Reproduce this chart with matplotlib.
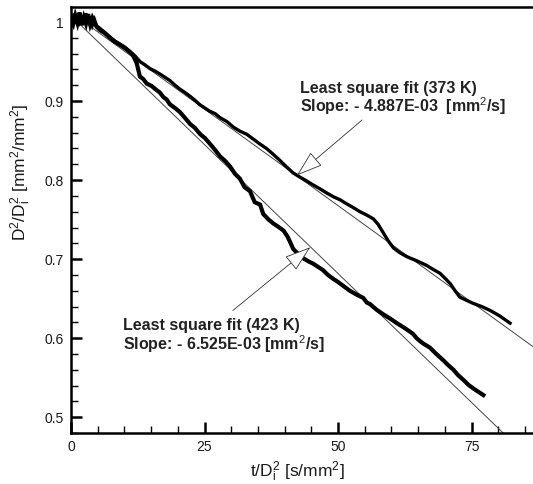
import matplotlib
matplotlib.use("Agg")
import matplotlib.pyplot as plt
from matplotlib.ticker import MultipleLocator, FuncFormatter

plt.rcParams['font.family'] = ['Liberation Sans', 'DejaVu Sans']
plt.rcParams['mathtext.fontset'] = 'custom'
plt.rcParams['mathtext.rm'] = 'Liberation Sans'
plt.rcParams['mathtext.default'] = 'rm'

# droplet at 373 K (upper trace)
t_373 = [0, 0.4, 0.8, 1.2, 1.6, 2.0, 2.4, 2.8, 3.2, 3.6, 4.0, 4.4, 4.8, 5.4, 6.3, 7.3,
         8.2, 9.2, 10.1, 11.0, 12.0, 12.9, 13.8, 14.8, 15.7, 16.7, 17.6, 18.5, 19.5,
         20.4, 21.3, 22.3, 23.2, 24.2, 25.1, 26.0, 27.0, 27.9, 29.2, 30.4, 31.6, 32.9,
         34.1, 35.3, 36.6, 37.8, 39.1, 40.3, 41.6, 42.8, 44.1, 45.3, 46.6, 47.8, 49.1,
         50.4, 51.6, 52.9, 54.1, 55.3, 56.6, 57.5, 58.5, 59.4, 60.4, 61.6, 62.9, 64.7,
         66.6, 67.8, 69.1, 70.0, 71.0, 71.9, 72.8, 74.0, 75.3, 76.9, 78.5, 80.3, 82.2]
d2_373 = [1.000, 1.006, 0.998, 1.009, 0.999, 1.004, 0.997, 1.011, 0.998, 1.007, 0.996,
          1.003, 0.995, 0.992, 0.987, 0.981, 0.976, 0.972, 0.968, 0.963, 0.957, 0.950,
          0.946, 0.941, 0.938, 0.934, 0.930, 0.926, 0.920, 0.915, 0.911, 0.906, 0.901,
          0.895, 0.891, 0.887, 0.884, 0.879, 0.874, 0.867, 0.862, 0.858, 0.852, 0.846,
          0.840, 0.833, 0.825, 0.817, 0.809, 0.804, 0.799, 0.794, 0.789, 0.784, 0.779,
          0.775, 0.770, 0.765, 0.760, 0.756, 0.751, 0.744, 0.733, 0.723, 0.714, 0.708,
          0.703, 0.698, 0.692, 0.687, 0.682, 0.676, 0.669, 0.660, 0.652, 0.648, 0.644,
          0.640, 0.635, 0.628, 0.619]

# droplet at 423 K (lower trace)
t_423 = [0, 0.4, 0.8, 1.2, 1.6, 2.0, 2.4, 2.8, 3.2, 3.6, 4.0, 4.4, 4.8, 5.4, 6.3, 7.3,
         8.2, 9.2, 10.1, 11.0, 11.6, 12.3, 12.9, 13.5, 14.2, 15.1, 16.0, 16.6, 17.3,
         17.9, 18.5, 19.5, 20.4, 21.3, 22.3, 23.2, 24.2, 25.1, 26.0, 27.0, 27.9, 28.9,
         29.8, 30.7, 31.6, 32.5, 33.5, 34.4, 35.4, 36.0, 37.0, 37.9, 38.8, 39.8, 40.5,
         41.0, 41.6, 42.3, 43.0, 43.5, 44.5, 45.4, 46.3, 47.2, 48.1, 49.1, 50.0, 51.0,
         52.2, 53.5, 54.7, 55.4, 56.0, 57.2, 58.5, 59.7, 61.0, 62.2, 63.5, 64.1, 64.7,
         65.4, 66.0, 67.2, 68.4, 69.7, 70.6, 71.6, 72.5, 73.5, 74.4, 75.4, 76.3, 77.2]
d2_423 = [1.002, 0.997, 1.008, 0.999, 1.012, 0.996, 1.006, 0.998, 1.010, 0.997, 1.005,
          0.999, 0.994, 0.990, 0.986, 0.980, 0.975, 0.971, 0.967, 0.962, 0.958, 0.948,
          0.931, 0.928, 0.922, 0.919, 0.914, 0.911, 0.905, 0.902, 0.896, 0.891, 0.886,
          0.879, 0.871, 0.866, 0.858, 0.853, 0.846, 0.838, 0.830, 0.824, 0.817, 0.808,
          0.802, 0.791, 0.786, 0.772, 0.769, 0.757, 0.750, 0.745, 0.741, 0.736, 0.729,
          0.722, 0.713, 0.708, 0.704, 0.701, 0.697, 0.694, 0.690, 0.686, 0.680, 0.675,
          0.671, 0.666, 0.660, 0.655, 0.651, 0.645, 0.643, 0.636, 0.630, 0.625, 0.619,
          0.614, 0.608, 0.605, 0.600, 0.596, 0.593, 0.588, 0.580, 0.572, 0.566, 0.560,
          0.553, 0.547, 0.541, 0.536, 0.532, 0.528]

# least square fits
fit_t = [0, 86.5]
slope_373, icpt_373 = -4.887e-3, 1.012
slope_423, icpt_423 = -6.525e-3, 1.008

x_ticks = [0, 25, 50, 75]
y_ticks = [0.5, 0.6, 0.7, 0.8, 0.9, 1.0]

fig = plt.figure(figsize=(5.33, 4.84), dpi=100)
ax = fig.add_axes([71 / 533, 51 / 484, 462 / 533, 426 / 484])

ax.plot(fit_t, [icpt_373 + slope_373 * t for t in fit_t], color='#444444', lw=0.7)
ax.plot(fit_t, [icpt_423 + slope_423 * t for t in fit_t], color='#444444', lw=0.7)
ax.plot(t_373, d2_373, color='black', lw=2.4, solid_joinstyle='miter')
ax.plot(t_423, d2_423, color='black', lw=3.0, solid_joinstyle='miter')

ax.set_xlim(0, 86.5)
ax.set_ylim(0.480, 1.019)
ax.set_xticks(x_ticks)
ax.set_yticks(y_ticks)
ax.xaxis.set_minor_locator(MultipleLocator(5))
ax.yaxis.set_minor_locator(MultipleLocator(0.02))
ax.yaxis.set_major_formatter(FuncFormatter(lambda v, p: '%g' % v))
ax.tick_params(which='both', direction='in', top=False, right=False,
               labelsize=10, labelcolor='#1a1a1a')
ax.tick_params(which='major', length=8, width=1.8, pad=5)
ax.tick_params(which='minor', length=5, width=1.0)
for s in ['left', 'bottom', 'top']:
    ax.spines[s].set_linewidth(1.8)
ax.spines['right'].set_visible(False)

ax.set_xlabel(r't/D$_i^2$ [s/mm$^2$]', fontsize=12.5, color='#1a1a1a')
ax.set_ylabel(r'D$^2$/D$_i^2$ [mm$^2$/mm$^2$]', fontsize=12.5, color='#1a1a1a')
ax.xaxis.set_label_coords(0.489, -0.062)
ax.yaxis.set_label_coords(-0.083, 0.612)

arrow = dict(arrowstyle='-|>,head_length=1.2,head_width=0.4', mutation_scale=14,
             fc='white', ec='#333333', lw=0.6, shrinkA=0, shrinkB=0)
ax.annotate('', xy=(42.3, 0.806), xytext=(54.5, 0.876), arrowprops=arrow)
ax.annotate('', xy=(44.8, 0.715), xytext=(30.3, 0.635), arrowprops=arrow)

ax.text(42.9, 0.926, 'Least square fit (373 K)\nSlope: - 4.887E-03  [mm$^2$/s]',
        fontsize=11.5, fontweight='bold', color='#222222', va='top', ha='left',
        linespacing=1.0)
ax.text(9.7, 0.625, 'Least square fit (423 K)\nSlope: - 6.525E-03 [mm$^2$/s]',
        fontsize=11.5, fontweight='bold', color='#222222', va='top', ha='left',
        linespacing=1.0)

fig.savefig('out.png', dpi=100)
